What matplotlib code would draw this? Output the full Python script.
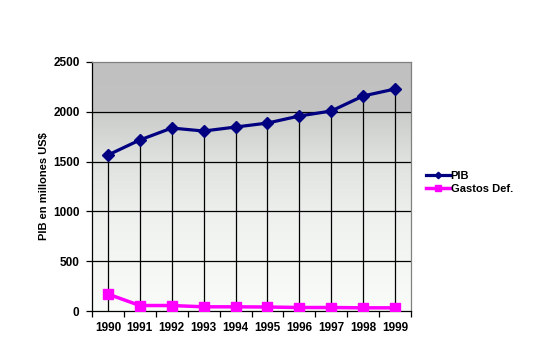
import numpy as np
import matplotlib
matplotlib.use("Agg")
import matplotlib.pyplot as plt
from matplotlib.colors import LinearSegmentedColormap

years = ["1990", "1991", "1992", "1993", "1994", "1995", "1996", "1997", "1998", "1999"]
pib = [1566, 1717, 1837, 1807, 1847, 1887, 1958, 2008, 2159, 2229]
gastos = [170, 55, 55, 42, 42, 40, 35, 35, 32, 32]

plt.rcParams["font.family"] = ["Liberation Sans", "DejaVu Sans"]
plt.rcParams["font.weight"] = "bold"

fig = plt.figure(figsize=(5.35, 3.52), dpi=100)
ax = fig.add_axes([92 / 535, 1 - 311 / 352, 319 / 535, 249 / 352])

x = np.arange(len(years))

# gradient background (grey at top, almost white at bottom)
cmap = LinearSegmentedColormap.from_list(
    "bg", [(0, "#fafcfa"), (0.35, "#f0f2f0"), (0.6, "#dfe2df"),
           (0.79, "#cacdca"), (0.81, "#c2c2c2"), (1, "#c0c0c0")])
grad = np.linspace(0, 1, 256).reshape(-1, 1)
ax.imshow(grad, extent=(-0.5, 9.5, 0, 2500), origin="lower", aspect="auto", cmap=cmap, zorder=0)

# horizontal grid
for v in range(500, 2500, 500):
    ax.axhline(v, color="black", lw=0.9, zorder=1)

# drop lines
ax.vlines(x, 0, pib, color="black", lw=0.9, zorder=1)

ax.plot(x, pib, color="#000080", lw=2.3, marker="D", ms=6, label="PIB", zorder=3)
ax.plot(x, gastos, color="#ff00ff", lw=2.5, marker="s", ms=7, label="Gastos Def.", zorder=3)

ax.set_xlim(-0.5, 9.5)
ax.set_ylim(0, 2500)
ax.set_yticks(range(0, 2501, 500))
ax.set_xticks(x)
ax.set_xticklabels(years)
ax.set_xticks(np.arange(-0.5, 10, 1), minor=True)
ax.tick_params(axis="x", which="major", length=0, pad=8, labelsize=8.5)
ax.tick_params(axis="x", which="minor", length=4, direction="out", width=0.9)
ax.tick_params(axis="y", length=4, direction="out", width=0.9, labelsize=8.5, pad=5)

for s in ["top", "right"]:
    ax.spines[s].set_color("#808080")
    ax.spines[s].set_linewidth(0.9)
for s in ["left", "bottom"]:
    ax.spines[s].set_color("black")
    ax.spines[s].set_linewidth(0.9)

ax.set_ylabel("PIB en millones US$", fontsize=8, fontweight="bold", labelpad=3)

ax.legend(loc="upper left", bbox_to_anchor=(1.032, 0.58), frameon=False, fontsize=8,
          handlelength=2.2, handletextpad=0.05, labelspacing=0.25, markerscale=0.55,
          borderaxespad=0)

fig.savefig("out.png", dpi=100)
